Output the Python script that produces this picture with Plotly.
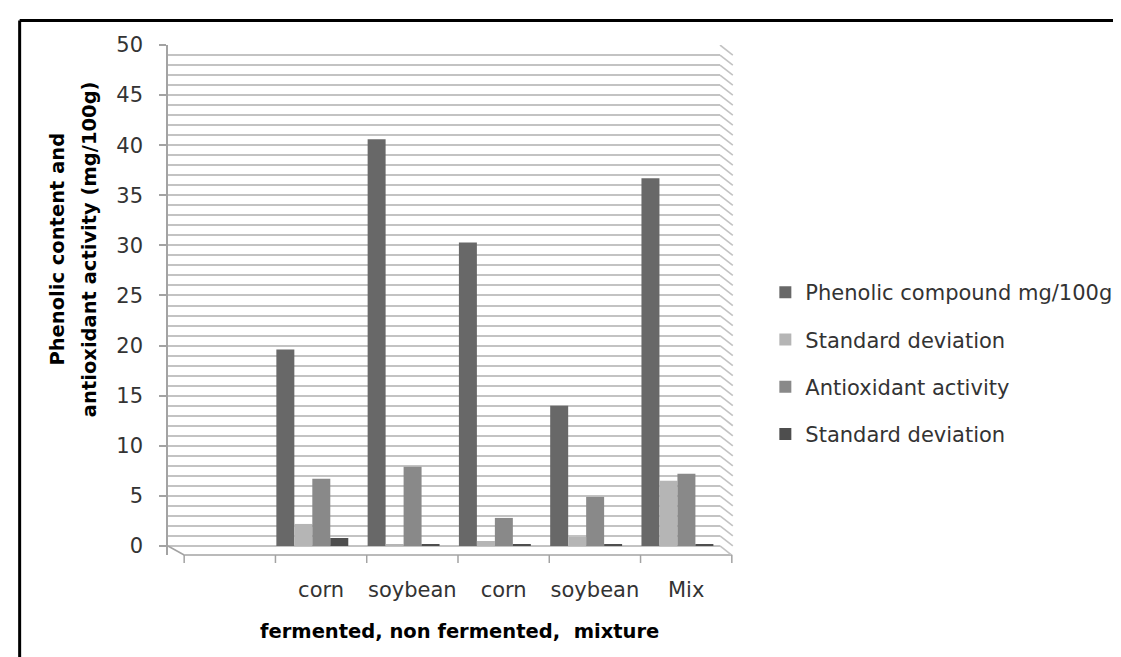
import plotly.graph_objects as go

# ---------------- data ----------------
categories = ["", "corn", "soybean", "corn", "soybean", "Mix"]
phenolic = [None, 19.6, 40.6, 30.3, 14.0, 36.7]
sd_phenolic = [None, 2.2, 0.1, 0.5, 0.9, 6.5]
antioxidant = [None, 6.7, 7.9, 2.8, 4.9, 7.2]
sd_antioxidant = [None, 0.8, 0.2, 0.2, 0.2, 0.2]

series_names = ["Phenolic compound mg/100g", "Standard deviation",
                "Antioxidant activity", "Standard deviation"]
series_values = [phenolic, sd_phenolic, antioxidant, sd_antioxidant]
series_colors = ["#686868", "#b5b5b5", "#898989", "#4e4e4e"]

y_ticks = [0, 5, 10, 15, 20, 25, 30, 35, 40, 45, 50]
x_title = "fermented, non fermented,  mixture"
y_title_lines = ["Phenolic content and", "antioxidant activity (mg/100g)"]

# ---------------- layout geometry ----------------
W, H = 1121, 657
PL, PR, PT, PB = 160, 720, 37, 547      # plot area in pixels
Y0, Y1 = -0.9, 50
cat_left_px, cat_w_px = 176.4, 92.6       # category boundary start / width
x0 = -0.5 - (cat_left_px - PL) / cat_w_px
x1 = x0 + (PR - PL) / cat_w_px
bar_w = 0.197                              # width of one bar (category units)
group_start = -0.49                        # left edge of the group rel. to category centre


def px(xp):
    return (xp - PL) / (PR - PL)


def py(yp):
    return (PB - yp) / (PB - PT)


GRID = "#c3c3c3"
AXIS = "#a3a3a3"
FONT = "DejaVu Sans"

x_idx = list(range(len(categories)))

fig = go.Figure()
for i, (name, vals, col) in enumerate(zip(series_names, series_values, series_colors)):
    fig.add_trace(go.Bar(
        x=x_idx, y=vals, name=name, legendgroup="g%d" % i,
        width=bar_w, offset=group_start + i * bar_w,
        marker=dict(color=col, line=dict(width=0)),
    ))

shapes = []
# floor / category axis line
shapes.append(dict(type="line", xref="paper", yref="paper",
                   x0=px(cat_left_px), x1=px(cat_left_px + cat_w_px * len(categories)),
                   y0=0, y1=0, line=dict(color=AXIS, width=1.5)))
shapes.append(dict(type="line", xref="paper", yref="paper",
                   x0=px(PL), x1=px(cat_left_px), y0=py(538), y1=0,
                   line=dict(color=AXIS, width=1.5)))
# category boundary ticks
for i in range(len(categories) + 1):
    xp = cat_left_px + cat_w_px * i
    shapes.append(dict(type="line", xref="paper", yref="paper",
                       x0=px(xp), x1=px(xp), y0=0, y1=py(PB + 8),
                       line=dict(color=AXIS, width=1.5)))
# side wall diagonals of the gridlines
for v in range(0, 51):
    shapes.append(dict(type="line", xref="paper", yref="y",
                       x0=1.0, x1=px(733), y0=v, y1=v - 1.0,
                       line=dict(color=GRID, width=1.6)))
# outer frame (only top and left visible)
shapes.append(dict(type="line", xref="paper", yref="paper",
                   x0=px(9.5), x1=px(W + 5), y0=py(12.5), y1=py(12.5),
                   line=dict(color="black", width=3)))
shapes.append(dict(type="line", xref="paper", yref="paper",
                   x0=px(9.5), x1=px(9.5), y0=py(12.5), y1=py(H + 5),
                   line=dict(color="black", width=3)))

annotations = [
    dict(text="<b>" + x_title + "</b>", xref="paper", yref="paper",
         x=px(456), y=py(623), showarrow=False,
         font=dict(family=FONT, size=19.5, color="black"),
         xanchor="center", yanchor="middle"),
]
for line_text, line_x in zip(y_title_lines, [47, 80]):
    annotations.append(dict(
        text="<b>" + line_text + "</b>", xref="paper", yref="paper",
        x=px(line_x), y=py(241), showarrow=False, textangle=-90,
        font=dict(family=FONT, size=19.5, color="black"),
        xanchor="center", yanchor="middle"))

fig.update_layout(
    width=W, height=H,
    margin=dict(l=PL, r=W - PR, t=PT, b=H - PB),
    paper_bgcolor="white", plot_bgcolor="white",
    barmode="group", bargap=0.21, bargroupgap=0,
    font=dict(family=FONT, size=21, color="#333333"),
    showlegend=True,
    legend=dict(x=px(766), y=py(264), xanchor="left", yanchor="top",
                traceorder="grouped", tracegroupgap=17,
                font=dict(family=FONT, size=21, color="#333333"),
                bgcolor="rgba(0,0,0,0)"),
    xaxis=dict(range=[x0, x1], tickmode="array", tickvals=x_idx,
               ticktext=categories, ticks="", showline=False,
               showgrid=False, zeroline=False, ticklabelstandoff=20,
               tickfont=dict(family=FONT, size=21, color="#333333")),
    yaxis=dict(range=[Y0, Y1], tickmode="array", tickvals=y_ticks,
               ticks="outside", ticklen=7, tickcolor=AXIS, tickwidth=1.5,
               showline=True, linecolor=AXIS, linewidth=1.5,
               showgrid=True, gridcolor=GRID, gridwidth=1.6, zeroline=False,
               minor=dict(dtick=1, tick0=0, showgrid=True, gridcolor=GRID,
                          gridwidth=1.6, ticks=""),
               ticklabelstandoff=12,
               tickfont=dict(family=FONT, size=21, color="#333333")),
    shapes=shapes,
    annotations=annotations,
)

fig.write_html("out.html")
